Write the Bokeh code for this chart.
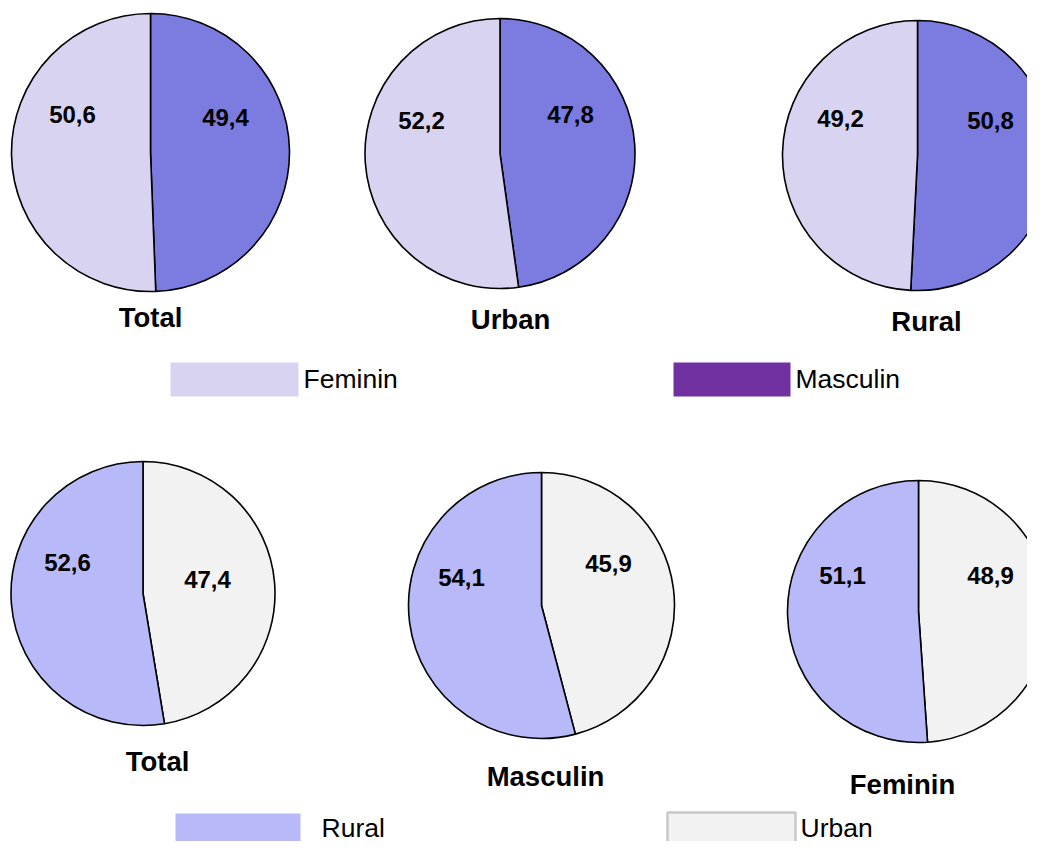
import math
from bokeh.plotting import figure
from bokeh.models import Range1d
from bokeh.embed import file_html
from bokeh.resources import INLINE
from bokeh.core.properties import value

# ---------------- data ----------------
top_titles = ["Total", "Urban", "Rural"]
top_masculin = [49.4, 47.8, 50.8]
top_feminin = [50.6, 52.2, 49.2]

bottom_titles = ["Total", "Masculin", "Feminin"]
bottom_urban = [47.4, 45.9, 48.9]
bottom_rural = [52.6, 54.1, 51.1]

legend_top = ["Feminin", "Masculin"]
legend_bottom = ["Rural", "Urban"]

# ---------------- layout (picture pixel coordinates) ----------------
top_cx = [150, 499.5, 917]
top_cy = [152, 153, 155]
top_r = [139, 135, 135]
top_first_lbl = [(225, 117), (570, 114), (990, 120)]      # masculin
top_second_lbl = [(72, 114), (421, 120), (840, 117.5)]    # feminin
top_title_pos = [(150, 317), (510, 319), (926, 321)]

bot_cx = [142.5, 541, 918]
bot_cy = [593, 605, 611]
bot_r = [132, 133, 131]
bot_first_lbl = [(207, 579), (608, 563), (990, 575)]      # urban
bot_second_lbl = [(67, 562), (461, 577), (842, 575)]      # rural
bot_title_pos = [(157, 761), (545, 776), (902, 784)]

C_FEM = "#D9D3F2"
C_MASC = "#7B7BE0"
C_MASC_LEG = "#7030A0"
C_RUR = "#B8B9F8"
C_URB = "#F2F2F2"

FONT = value("Liberation Sans")

W, H = 1027, 841
p = figure(width=W, height=H, x_range=Range1d(0, W), y_range=Range1d(-H, 0),
           output_backend="svg", toolbar_location=None, min_border=0,
           x_axis_type=None, y_axis_type=None)
p.grid.visible = False
p.outline_line_color = None
p.background_fill_color = "white"
p.border_fill_color = "white"


def fmt(v):
    return f"{v:.1f}".replace(".", ",")


def draw_row(cx, cy, r, first_vals, second_vals, c1, c2, lbl1, lbl2, titles, tpos):
    s1, e1, s2, e2 = [], [], [], []
    for a in first_vals:
        ang = a / 100.0 * 2 * math.pi
        s1.append(math.pi / 2)
        e1.append(math.pi / 2 - ang)
        s2.append(math.pi / 2 - ang)
        e2.append(math.pi / 2 - 2 * math.pi)
    ys = [-y for y in cy]
    p.wedge(x=cx, y=ys, radius=r, start_angle=s1, end_angle=e1, direction="clock",
            fill_color=c1, line_color="black", line_width=1.6)
    p.wedge(x=cx, y=ys, radius=r, start_angle=s2, end_angle=e2, direction="clock",
            fill_color=c2, line_color="black", line_width=1.6)
    p.text(x=[q[0] for q in lbl1], y=[-q[1] for q in lbl1], text=[fmt(v) for v in first_vals],
           text_font=FONT, text_font_style="bold", text_font_size="24px",
           text_align="center", text_baseline="middle", text_color="black")
    p.text(x=[q[0] for q in lbl2], y=[-q[1] for q in lbl2], text=[fmt(v) for v in second_vals],
           text_font=FONT, text_font_style="bold", text_font_size="24px",
           text_align="center", text_baseline="middle", text_color="black")
    p.text(x=[q[0] for q in tpos], y=[-q[1] for q in tpos], text=titles,
           text_font=FONT, text_font_style="bold", text_font_size="27.5px",
           text_align="center", text_baseline="middle", text_color="black")


draw_row(top_cx, top_cy, top_r, top_masculin, top_feminin, C_MASC, C_FEM,
         top_first_lbl, top_second_lbl, top_titles, top_title_pos)
draw_row(bot_cx, bot_cy, bot_r, bottom_urban, bottom_rural, C_URB, C_RUR,
         bot_first_lbl, bot_second_lbl, bottom_titles, bot_title_pos)

# ---------------- legends ----------------
# top legend
p.quad(left=[170, 673], right=[298, 790], top=[-362, -362], bottom=[-396, -396],
       fill_color=[C_FEM, C_MASC_LEG], line_color=None)
p.text(x=[303, 795], y=[-378, -378], text=legend_top, text_font=FONT,
       text_font_size="26.5px", text_align="left", text_baseline="middle", text_color="black")

# bottom legend (moved up slightly so it fits the figure height)
p.quad(left=[175], right=[300], top=[-813], bottom=[-846], fill_color=[C_RUR], line_color=None)
p.quad(left=[667], right=[795], top=[-812], bottom=[-846], fill_color=[C_URB],
       line_color="#C8C8C8", line_width=2.5)
p.text(x=[321, 800], y=[-827, -827], text=legend_bottom, text_font=FONT,
       text_font_size="26.5px", text_align="left", text_baseline="middle", text_color="black")

open("out.html", "w").write(file_html(p, INLINE))
